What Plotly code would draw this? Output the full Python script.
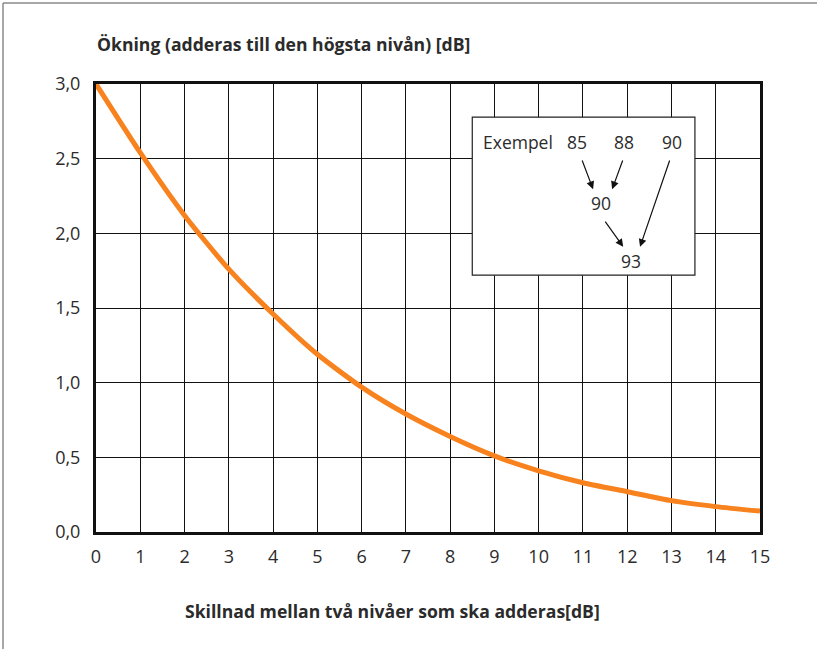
import plotly.graph_objects as go

# Data
level_difference = [0, 1, 2, 3, 4, 5, 6, 7, 8, 9, 10, 11, 12, 13, 14, 15]
increase_db = [3.0, 2.54, 2.12, 1.76, 1.46, 1.19, 0.97, 0.79, 0.64, 0.51,
               0.41, 0.33, 0.27, 0.21, 0.17, 0.14]
x_ticks = list(range(0, 16))
y_ticks = [0.0, 0.5, 1.0, 1.5, 2.0, 2.5, 3.0]

y_title = "Ökning (adderas till den högsta nivån) [dB]"
x_title = "Skillnad mellan två nivåer som ska adderas[dB]"

FONT = "Open Sans"
TXT = "#2b2b2b"

fig = go.Figure()
fig.add_trace(go.Scatter(
    x=level_difference, y=increase_db, mode="lines",
    line=dict(color="#F7821E", width=5, shape="spline", smoothing=0.6),
    hoverinfo="skip", showlegend=False,
))

W, H = 827, 649
L, R, T, B = 96, 67, 84, 117
pw, ph = W - L - R, H - T - B

def px(xp):
    return (xp - L) / pw

def py(yp):
    return (H - B - yp) / ph

shapes = [
    # outer frame (top and left edges visible)
    dict(type="line", xref="paper", yref="paper", x0=px(3), x1=px(817), y0=py(3), y1=py(3),
         line=dict(color="#8a8a8a", width=1.5)),
    dict(type="line", xref="paper", yref="paper", x0=px(3), x1=px(3), y0=py(3), y1=py(660),
         line=dict(color="#8a8a8a", width=1.5)),
    # example inset box
    dict(type="rect", xref="x", yref="y", x0=8.5, x1=13.53, y0=1.72, y1=2.778,
         fillcolor="white", line=dict(color="#222", width=1.2), layer="above"),
]

annotations = [
    dict(text=y_title, xref="paper", yref="paper", x=px(95), y=py(44), xanchor="left",
         yanchor="middle", showarrow=False, font=dict(family=FONT, size=17.6, color=TXT, weight="bold")),
    dict(text=x_title, xref="paper", yref="paper", x=px(392), y=py(611), xanchor="center",
         yanchor="middle", showarrow=False, font=dict(family=FONT, size=17.6, color=TXT, weight="bold")),
]

inset_texts = [("Exempel", 9.53, 2.611), ("85", 10.865, 2.611), ("88", 11.93, 2.611),
               ("90", 13.01, 2.611), ("90", 11.41, 2.203), ("93", 12.08, 1.815)]
for t, x, y in inset_texts:
    annotations.append(dict(text=t, x=x, y=y, xref="x", yref="y", showarrow=False,
                            xanchor="center", yanchor="middle",
                            font=dict(family=FONT, size=17.5, color=TXT)))

arrows = [((10.97, 2.498), (11.23, 2.295)),
          ((11.91, 2.498), (11.66, 2.295)),
          ((11.48, 2.089), (11.91, 1.910)),
          ((12.97, 2.498), (12.29, 1.910))]
for (tx, ty), (hx, hy) in arrows:
    annotations.append(dict(x=hx, y=hy, ax=tx, ay=ty, xref="x", yref="y", axref="x", ayref="y",
                            text="", showarrow=True, arrowhead=2, arrowsize=1.3,
                            arrowwidth=1.2, arrowcolor="#111"))

fig.update_layout(
    width=W, height=H,
    margin=dict(l=L, r=R, t=T, b=B, pad=0),
    paper_bgcolor="white", plot_bgcolor="white",
    separators=", ",
    font=dict(family=FONT, size=18, color=TXT),
    shapes=shapes, annotations=annotations,
    xaxis=dict(range=[0, 15], tickvals=x_ticks, ticks="", showgrid=True,
               gridcolor="#111", gridwidth=1, zeroline=False,
               showline=True, linecolor="#111", linewidth=3, mirror=True,
               tickfont=dict(family=FONT, size=18, color=TXT), ticklabelstandoff=6),
    yaxis=dict(range=[0, 3], tickvals=y_ticks, tickformat=".1f", ticks="", showgrid=True,
               gridcolor="#111", gridwidth=1, zeroline=False,
               showline=True, linecolor="#111", linewidth=3, mirror=True,
               tickfont=dict(family=FONT, size=18, color=TXT), ticklabelstandoff=9),
)

fig.write_html("out.html", config={"displayModeBar": False},
               post_script="document.body.style.margin='0px';")
